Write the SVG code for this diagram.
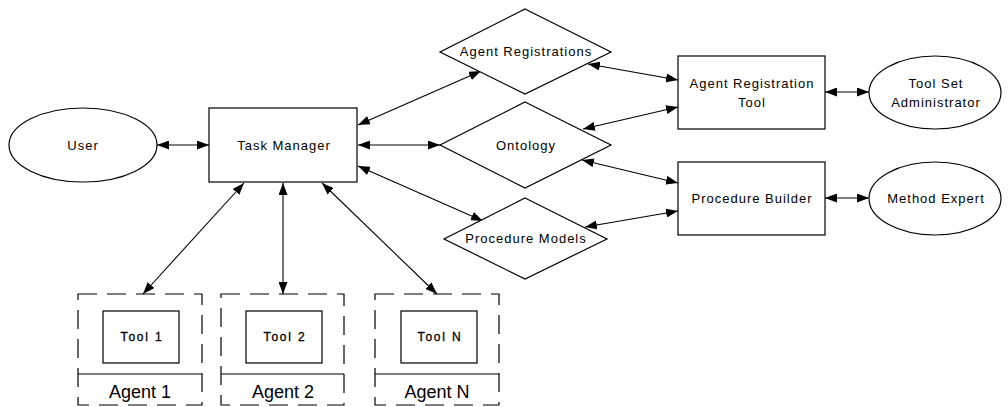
<svg xmlns="http://www.w3.org/2000/svg" width="1008" height="407" viewBox="0 0 1008 407">
<defs>
<marker id="arr" viewBox="0 0 12 9" refX="12" refY="4.5" markerWidth="12" markerHeight="9" markerUnits="userSpaceOnUse" orient="auto-start-reverse">
<path d="M0,0 L12,4.5 L0,9 z" fill="#000"/>
</marker>
<style>
.s{fill:#fff;stroke:#000;stroke-width:1.2}
.d{fill:none;stroke:#000;stroke-width:1.2;stroke-dasharray:19 10}
.t{font-family:"Liberation Sans",Arial,sans-serif;font-size:13px;letter-spacing:1px;text-anchor:middle;fill:#000}
.tb{font-family:"Liberation Sans",Arial,sans-serif;font-size:12px;letter-spacing:1.8px;text-anchor:middle;fill:#000;stroke:#000;stroke-width:0.3}
.ag{font-family:"Liberation Sans",Arial,sans-serif;font-size:18px;text-anchor:middle;fill:#000}
.c{fill:none;stroke:#000;stroke-width:1.1;marker-start:url(#arr);marker-end:url(#arr)}
</style>
</defs>
<rect width="1008" height="407" fill="#fff"/>
<g id="connectors">
<line class="c" x1="157" y1="145" x2="209" y2="145"/>
<line class="c" x1="358" y1="125" x2="481" y2="71"/>
<line class="c" x1="358" y1="145" x2="440" y2="145"/>
<line class="c" x1="358" y1="166" x2="483" y2="221"/>
<line class="c" x1="588" y1="64" x2="678" y2="80"/>
<line class="c" x1="583" y1="129" x2="678" y2="107"/>
<line class="c" x1="582" y1="160" x2="678" y2="183"/>
<line class="c" x1="585" y1="227" x2="678" y2="211"/>
<line class="c" x1="825" y1="92" x2="869" y2="92"/>
<line class="c" x1="825" y1="198" x2="869" y2="198"/>
<line class="c" x1="244" y1="183" x2="143" y2="294"/>
<line class="c" x1="283" y1="183" x2="283" y2="294"/>
<line class="c" x1="322" y1="183" x2="437" y2="294"/>
</g>
<g id="user">
<ellipse class="s" cx="83" cy="145" rx="74" ry="37"/>
<text class="t" x="83" y="150">User</text>
</g>
<g id="task-manager">
<rect class="s" x="209" y="108" width="148" height="74"/>
<text class="t" x="284" y="150">Task Manager</text>
</g>
<g id="agent-registrations">
<polygon class="s" points="525,9 611,52 525,94 440,52"/>
<text class="t" x="526" y="56">Agent Registrations</text>
</g>
<g id="ontology">
<polygon class="s" points="525,102 611,145 525,188 440,145"/>
<text class="t" x="526" y="150">Ontology</text>
</g>
<g id="procedure-models">
<polygon class="s" points="525,198 607,239 525,279 444,239"/>
<text class="t" x="526" y="243">Procedure Models</text>
</g>
<g id="agent-registration-tool">
<rect class="s" x="678" y="56" width="147" height="73"/>
<text class="t" x="752" y="88">Agent Registration</text>
<text class="t" x="752" y="107">Tool</text>
</g>
<g id="procedure-builder">
<rect class="s" x="678" y="162" width="147" height="73"/>
<text class="t" x="752" y="203">Procedure Builder</text>
</g>
<g id="tool-set-administrator">
<ellipse class="s" cx="935" cy="92.5" rx="66" ry="36.5"/>
<text class="t" x="936" y="88">Tool Set</text>
<text class="t" x="936" y="107">Administrator</text>
</g>
<g id="method-expert">
<ellipse class="s" cx="935" cy="198.5" rx="66" ry="36.5"/>
<text class="t" x="936" y="203">Method Expert</text>
</g>
<g id="agent-1">
<rect class="d" x="78" y="294" width="124" height="111"/>
<line x1="78" y1="374" x2="202" y2="374" stroke="#000" stroke-width="1.2"/>
<rect class="s" x="103" y="311" width="76" height="52"/>
<text class="tb" x="142" y="341">Tool 1</text>
<text class="ag" x="140" y="398">Agent 1</text>
</g>
<g id="agent-2">
<rect class="d" x="221" y="294" width="123" height="111"/>
<line x1="221" y1="374" x2="344" y2="374" stroke="#000" stroke-width="1.2"/>
<rect class="s" x="246" y="311" width="76" height="52"/>
<text class="tb" x="285" y="341">Tool 2</text>
<text class="ag" x="283" y="398">Agent 2</text>
</g>
<g id="agent-n">
<rect class="d" x="375" y="294" width="124" height="111"/>
<line x1="375" y1="374" x2="499" y2="374" stroke="#000" stroke-width="1.2"/>
<rect class="s" x="401" y="311" width="76" height="52"/>
<text class="tb" x="440" y="341">Tool N</text>
<text class="ag" x="437" y="398">Agent N</text>
</g>
</svg>
